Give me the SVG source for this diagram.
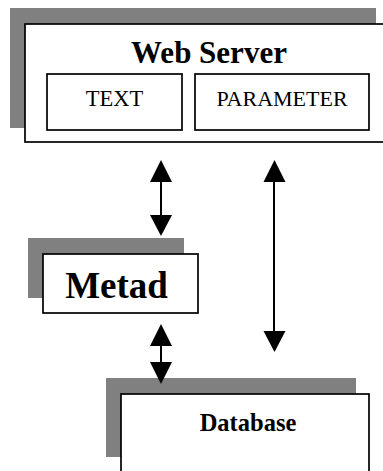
<svg xmlns="http://www.w3.org/2000/svg" width="383" height="471" viewBox="0 0 383 471">
<style>
.shadow{fill:#808080}
.box{fill:#fff;stroke:#000;stroke-width:1.7}
.t{font-family:"Liberation Serif","Times New Roman",serif;fill:#000;text-anchor:middle}
.b{font-weight:bold}
.line{stroke:#000;stroke-width:2;fill:none}
.head{fill:#000}
</style>
<rect width="383" height="471" fill="#fff"/>
<g id="webserver">
<rect class="shadow" x="10" y="8" width="366" height="120"/>
<rect class="box" x="25" y="24" width="362" height="118"/>
<text class="t b" x="209" y="63" font-size="31">Web Server</text>
</g>
<g id="text">
<rect class="box" x="47" y="74" width="135" height="56"/>
<text class="t" x="114.5" y="106" font-size="22.5">TEXT</text>
</g>
<g id="parameter">
<rect class="box" x="195" y="74" width="174" height="56"/>
<text class="t" x="282" y="106" font-size="22">PARAMETER</text>
</g>
<g id="metad">
<rect class="shadow" x="28" y="238" width="156" height="60"/>
<rect class="box" x="43" y="254" width="155" height="59"/>
<text class="t b" x="116.5" y="297.5" font-size="37">Metad</text>
</g>
<g id="database">
<rect class="shadow" x="106" y="378" width="250" height="79"/>
<rect class="box" x="121" y="394" width="248" height="90"/>
<text class="t b" x="248" y="431" font-size="24.5">Database</text>
</g>
<g id="connectors">
<line class="line" x1="161" y1="180" x2="161" y2="217"/>
<polygon class="head" points="161,160 150,182 172,182"/>
<polygon class="head" points="161,236 150,215 172,215"/>
<line class="line" x1="274" y1="180" x2="274" y2="334"/>
<polygon class="head" points="274.5,160 263.5,182 285.5,182"/>
<polygon class="head" points="274.5,352 263.5,331 285.5,331"/>
<line class="line" x1="161" y1="343" x2="161" y2="364"/>
<polygon class="head" points="161,324 150,346 172,346"/>
<polygon class="head" points="161,384 150,362 172,362"/>
</g>
</svg>
